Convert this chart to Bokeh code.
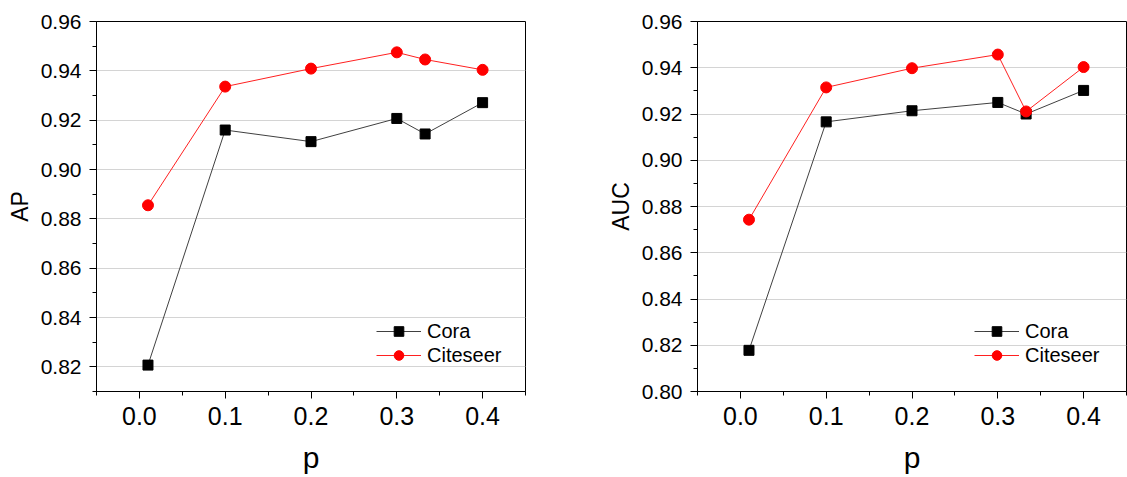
from bokeh.plotting import figure
from bokeh.layouts import row
from bokeh.models import FixedTicker, PrintfTickFormatter, Range1d
from bokeh.embed import file_html
from bokeh.resources import INLINE

# ---- data ----
p_values = [0.01, 0.1, 0.2, 0.3, 0.333, 0.4]
ap_cora = [0.8207, 0.9160, 0.9113, 0.9207, 0.9144, 0.9271]
ap_citeseer = [0.8855, 0.9336, 0.9409, 0.9475, 0.9446, 0.9404]
auc_cora = [0.8178, 0.9166, 0.9214, 0.9250, 0.9200, 0.9302]
auc_citeseer = [0.8743, 0.9315, 0.9398, 0.9457, 0.9211, 0.9403]

x_major = [0.0, 0.1, 0.2, 0.3, 0.4]
x_minor = [-0.05, 0.05, 0.15, 0.25, 0.35, 0.45]
ap_major = [0.82, 0.84, 0.86, 0.88, 0.90, 0.92, 0.94, 0.96]
ap_minor = [0.81, 0.83, 0.85, 0.87, 0.89, 0.91, 0.93, 0.95]
auc_major = [0.80, 0.82, 0.84, 0.86, 0.88, 0.90, 0.92, 0.94, 0.96]
auc_minor = [0.81, 0.83, 0.85, 0.87, 0.89, 0.91, 0.93, 0.95]

FONT = "Liberation Sans"


def make_panel(ylabel, cora, cite, y_start, y_major, y_minor, width,
               border_left, border_right, legend_xy):
    p = figure(width=width, height=477,
               x_range=Range1d(-0.05, 0.45), y_range=Range1d(y_start, 0.96),
               output_backend="svg", toolbar_location=None,
               min_border_left=border_left, min_border_right=border_right,
               min_border_top=21, min_border_bottom=86)
    p.outline_line_color = "black"
    p.outline_line_width = 1
    p.background_fill_color = "white"
    p.border_fill_color = "white"
    p.xgrid.visible = False
    p.ygrid.grid_line_color = "#d4d4d4"
    p.ygrid.grid_line_width = 1

    p.xaxis.ticker = FixedTicker(ticks=x_major, minor_ticks=x_minor)
    p.yaxis.ticker = FixedTicker(ticks=y_major, minor_ticks=y_minor)
    p.xaxis.formatter = PrintfTickFormatter(format="%.1f")
    p.yaxis.formatter = PrintfTickFormatter(format="%.2f")

    for ax in (p.xaxis[0], p.yaxis[0]):
        ax.axis_line_color = "black"
        ax.major_tick_line_color = "black"
        ax.minor_tick_line_color = "black"
        ax.major_tick_out = 7
        ax.major_tick_in = 0
        ax.minor_tick_out = 4
        ax.minor_tick_in = 0
        ax.major_label_text_font = FONT
        ax.major_label_text_color = "black"
        ax.axis_label_text_font = FONT
        ax.axis_label_text_font_style = "normal"
        ax.axis_label_text_color = "black"

    p.xaxis.major_label_text_font_size = "25px"
    p.xaxis.major_label_standoff = 8
    p.xaxis.axis_label = "p"
    p.xaxis.axis_label_text_font_size = "30px"
    p.xaxis.axis_label_standoff = 13

    p.yaxis.major_label_text_font_size = "21px"
    p.yaxis.major_label_standoff = 8
    p.yaxis.axis_label = ylabel
    p.yaxis.axis_label_text_font_size = "23px"
    p.yaxis.axis_label_standoff = 5

    p.line(p_values, cora, line_color="#404040", line_width=1, legend_label="Cora")
    p.scatter(p_values, cora, marker="square", size=10, fill_color="black",
              line_color="black", legend_label="Cora")
    p.line(p_values, cite, line_color="#ff2020", line_width=1, legend_label="Citeseer")
    p.scatter(p_values, cite, marker="circle", size=11, fill_color="#ff0000",
              line_color="#ff0000", legend_label="Citeseer")

    lg = p.legend[0]
    lg.location = legend_xy
    lg.padding = 0
    lg.margin = 0
    lg.spacing = 0
    lg.border_line_alpha = 0
    lg.background_fill_alpha = 0
    lg.glyph_width = 45
    lg.glyph_height = 24
    lg.label_height = 24
    lg.label_standoff = 6
    lg.label_text_font = FONT
    lg.label_text_font_size = "20px"
    lg.label_text_color = "black"
    return p


left = make_panel("AP", ap_cora, ap_citeseer, 0.81, ap_major, ap_minor,
                  598, 96, 73, (280, 24))
right = make_panel("AUC", auc_cora, auc_citeseer, 0.80, auc_major, auc_minor,
                   529, 99, 1, (277, 24))

layout = row(left, right)
open("out.html", "w").write(file_html(layout, INLINE))
